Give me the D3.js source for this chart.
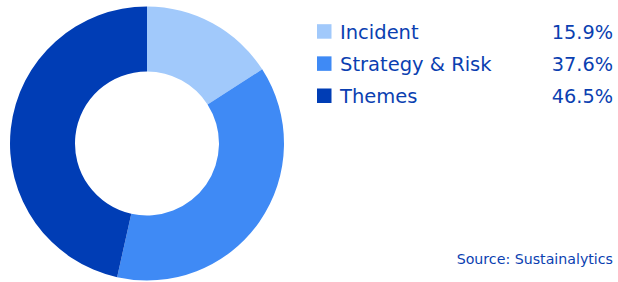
<!DOCTYPE html>
<html>
<head>
<meta charset="UTF-8">
<script src="https://d3js.org/d3.v7.min.js"></script>
<style>
  body { margin: 0; background: #fff; overflow: hidden; }
  svg { display: block; font-family: 'DejaVu Sans', sans-serif; }
</style>
</head>
<body>
<svg id="chart" width="618" height="282"></svg>
<script>
const categories = ["Incident", "Strategy & Risk", "Themes"];
const shares = [15.9, 37.6, 46.5];
const colours = ["#a1c9fb", "#3f8af5", "#003db5"];
const source = "Source: Sustainalytics";

const textColour = "#0b3fb1";
const width = 618, height = 282;
const cx = 147, cy = 143.5, outerR = 137, innerR = 72;

const svg = d3.select("#chart");

const data = categories.map((c, i) => ({ name: c, value: shares[i], colour: colours[i] }));

const pie = d3.pie().value(d => d.value).sort(null);
const arc = d3.arc().innerRadius(innerR).outerRadius(outerR);

svg.append("g")
  .attr("transform", `translate(${cx},${cy})`)
  .selectAll("path")
  .data(pie(data))
  .join("path")
  .attr("d", arc)
  .attr("fill", d => d.data.colour);

// legend rows, y = text baseline
const rowY = d3.scalePoint().domain(categories).range([38.7, 103]);

const legend = svg.append("g")
  .selectAll("g")
  .data(data)
  .join("g")
  .attr("transform", d => `translate(0,${rowY(d.name)})`);

legend.append("rect")
  .attr("x", 317)
  .attr("y", -14.5)
  .attr("width", 14.5)
  .attr("height", 14.5)
  .attr("fill", d => d.colour);

legend.append("text")
  .attr("x", 340)
  .attr("y", 0)
  .attr("font-size", 19.5)
  .attr("fill", textColour)
  .text(d => d.name);

legend.append("text")
  .attr("x", 613)
  .attr("y", 0)
  .attr("font-size", 19.3)
  .attr("text-anchor", "end")
  .attr("fill", textColour)
  .text(d => d.value.toFixed(1) + "%");

svg.append("text")
  .attr("x", 613)
  .attr("y", 264)
  .attr("font-size", 14.2)
  .attr("text-anchor", "end")
  .attr("fill", textColour)
  .text(source);
</script>
</body>
</html>
